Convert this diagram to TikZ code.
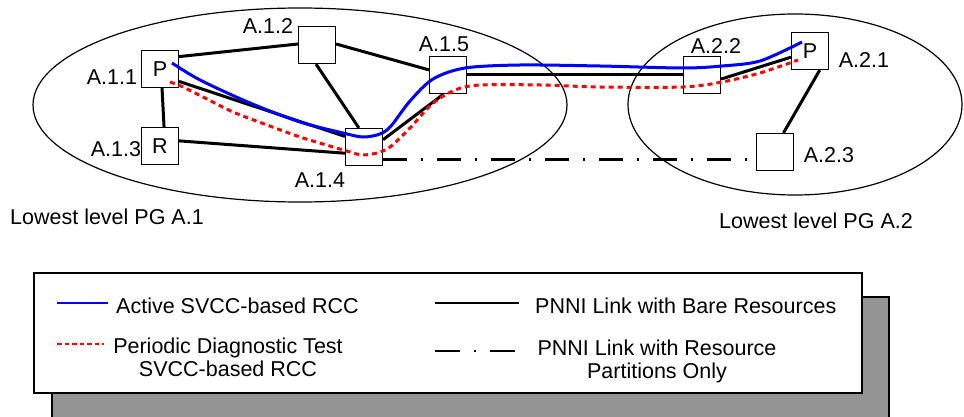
\documentclass[tikz,border=0pt]{standalone}
\usepackage{fontspec}
\setmainfont{Liberation Sans}
\usetikzlibrary{calc}
\definecolor{shadowgray}{RGB}{147,147,147}
\definecolor{rccblue}{RGB}{0,0,255}
\definecolor{rccred}{RGB}{255,0,0}
\tikzset{
  every node/.style={font=\fontsize{21.5}{23}\selectfont, inner sep=0pt},
  switchbox/.style={draw, line width=1.2pt, fill=white, minimum size=37pt},
  pglink/.style={line width=3pt},
  partlink/.style={line width=3pt, dash pattern=on 24pt off 14pt on 2pt off 14pt},
  activercc/.style={draw=rccblue, line width=3pt},
  testrcc/.style={draw=rccred, line width=3pt, dash pattern=on 5pt off 4pt},
  group/.style={line width=1.2pt}
}
\begin{document}
\begin{tikzpicture}[x=1pt, y=-1pt]
\useasboundingbox (0,0) rectangle (964,417);

% peer groups
\draw[group] (300,105) ellipse [x radius=267pt, y radius=97pt];
\draw[group] (795,104.5) ellipse [x radius=167pt, y radius=90.5pt];

% switches
\node[switchbox] (a11) at (160,69) {P};
\node[switchbox] (a12) at (317,45) {};
\node[switchbox] (a13) at (160,146) {R};
\node[switchbox] (a14) at (364,147) {};
\node[switchbox] (a15) at (448,75) {};
\node[switchbox] (a22) at (702,75) {};
\node[switchbox] (a21) at (810,51) {P};
\node[switchbox] (a23) at (775,152) {};

% switch names
\node (l11) at (112,77) {A.1.1};
\node (l12) at (268,26) {A.1.2};
\node (l13) at (116,149) {A.1.3};
\node (l14) at (320,180) {A.1.4};
\node (l15) at (444,44) {A.1.5};
\node (l22) at (716,46) {A.2.2};
\node (l21) at (864,60) {A.2.1};
\node (l23) at (829,155) {A.2.3};
\node (pg1) at (107,217) {Lowest level PG A.1};
\node (pg2) at (816,221) {Lowest level PG A.2};

% PNNI links
\draw[pglink] (a11.33) -- (a12.177);
\draw[pglink] (a12.3) -- (a15.165);
\draw[pglink] (a12.267) -- (a14.105);
\draw[pglink] (a11.276) -- (a13.78);
\draw[pglink] (a13.15) -- (a14.198);
\draw[pglink] (a11.327) -- (a14.151);
\draw[pglink] (a14.21) -- (a15.257);
\draw[pglink] (a15.east) -- (a22.west);
\draw[pglink] (a22.348) -- (a21.198);
\draw[pglink] (a21.297) -- (a23.66);
\draw[partlink] (a14.327) -- (a14.327 -| a23.west);

% routing control channels
\draw[testrcc] plot[smooth, tension=0.5] coordinates {
  (170,82) (183,87) (203,97) (233,112) (267,125) (300,137) (333,147) (350,152)
  (362,155) (377,153) (390,147) (410,128) (432,104) (455,90) (480,85) (540,85)
  (600,87) (683,87) (722,82) (760,73) (798,60)};
\draw[activercc] plot[smooth, tension=0.5] coordinates {
  (172,63) (200,80) (250,103) (300,122) (343,133) (363,137) (380,134) (391,126)
  (410,101) (433,79) (465,68) (520,65) (600,66) (683,68) (722,66) (760,61) (802,42)};

% legend
\draw[line width=1.5pt, fill=shadowgray] (52,297) rectangle (889,420);
\draw[line width=1.2pt, fill=white] (34,273) rectangle (862,393);

\coordinate (k1a) at (57,303);  \coordinate (k1b) at (108,303);
\coordinate (k2a) at (57,344);  \coordinate (k2b) at (104,344);
\coordinate (k3a) at (435,303); \coordinate (k3b) at (519,303);
\coordinate (k4a) at (435,351); \coordinate (k4b) at (516,351);
\draw[draw=rccblue, line width=2.2pt] (k1a) -- (k1b);
\draw[draw=rccred, line width=2.2pt, dash pattern=on 4.5pt off 3pt] (k2a) -- (k2b);
\draw[line width=2.5pt] (k3a) -- (k3b);
\draw[line width=2.5pt, dash pattern=on 25pt off 14pt on 2pt off 14pt] (k4a) -- (k4b);

\node[anchor=west] (t1) at (116,306) {Active SVCC-based RCC};
\node[align=center] (t2) at (228,357) {Periodic Diagnostic Test\\SVCC-based RCC};
\node[anchor=west] (t3) at (535,306) {PNNI Link with Bare Resources};
\node[align=center] (t4) at (657,361) {PNNI Link with Resource\\Partitions Only};
\end{tikzpicture}
\end{document}
